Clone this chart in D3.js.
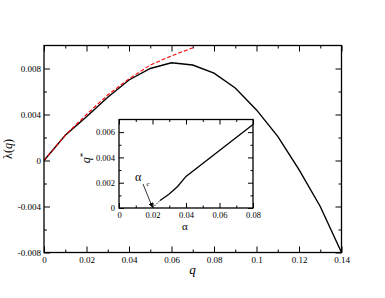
<!DOCTYPE html>
<html><head><meta charset="utf-8">
<script src="https://cdn.jsdelivr.net/npm/d3@7"></script>
<style>
body{margin:0;background:#fff;}
svg, svg text{font-family:"Liberation Serif","Times New Roman",Times,serif !important;}
</style></head>
<body><svg id="c" width="385" height="298"></svg>
<script>
// ---- data ----
const qBlack = [0,0.01,0.02,0.03,0.04,0.05,0.06,0.07,0.08,0.09,0.10,0.11,0.12,0.13,0.14];
const lamBlack = [0,0.0022,0.0038,0.0055,0.0070,0.0080,0.0085,0.0083,0.0076,0.0063,0.0044,0.0021,-0.0008,-0.0040,-0.0080];
const qRed = [0,0.01,0.02,0.03,0.04,0.05,0.06,0.07];
const lamRed = [0,0.0022,0.0040,0.0057,0.0071,0.0083,0.0091,0.0098];
const alphaDot = [0.020,0.0245];
const qStarDot = [0,0.0006];
const alphaSolid = [0.0245,0.030,0.035,0.040,0.080];
const qStarSolid = [0.0006,0.0011,0.0017,0.0025,0.0066];
const xTicks = [0,0.02,0.04,0.06,0.08,0.1,0.12,0.14];
const xTickLabels = ["0","0.02","0.04","0.06","0.08","0.1","0.12","0.14"];
const yTicks = [-0.008,-0.004,0,0.004,0.008];
const yTickLabels = ["-0.008","-0.004","0","0.004","0.008"];
const ixTicks = [0,0.02,0.04,0.06,0.08];
const ixTickLabels = ["0","0.02","0.04","0.06","0.08"];
const iyTicks = [0,0.002,0.004,0.006];
const iyTickLabels = ["0","0.002","0.004","0.006"];

const svg = d3.select("#c");
const SERIF = '"Liberation Serif","Times New Roman",Times,serif';

function drawAxes(g, x, y, xt, xl, yt, yl, xminor, yminor, maj, min, fs, padX, padY){
  const [x0,x1] = x.range(), [y0,y1] = y.range();
  const style = s => { s.attr("font-family",null); s.select(".domain").remove(); s.selectAll("line").attr("stroke","#000").attr("stroke-width",1); s.selectAll("text").attr("font-size",fs).style("font-family",SERIF).attr("fill","#000"); };
  g.append("g").attr("transform",`translate(0,${y0})`).call(d3.axisBottom(x).tickValues(xt).tickFormat((d,i)=>xl[i]).tickSize(-maj).tickPadding(padX)).call(style);
  g.append("g").attr("transform",`translate(0,${y0})`).call(d3.axisBottom(x).tickValues(xminor).tickFormat("").tickSize(-min)).call(style);
  g.append("g").attr("transform",`translate(0,${y1})`).call(d3.axisTop(x).tickValues(xt).tickFormat("").tickSize(-maj)).call(style);
  g.append("g").attr("transform",`translate(0,${y1})`).call(d3.axisTop(x).tickValues(xminor).tickFormat("").tickSize(-min)).call(style);
  g.append("g").attr("transform",`translate(${x0},0)`).call(d3.axisLeft(y).tickValues(yt).tickFormat((d,i)=>yl[i]).tickSize(-maj).tickPadding(padY)).call(style);
  g.append("g").attr("transform",`translate(${x0},0)`).call(d3.axisLeft(y).tickValues(yminor).tickFormat("").tickSize(-min)).call(style);
  g.append("g").attr("transform",`translate(${x1},0)`).call(d3.axisRight(y).tickValues(yt).tickFormat("").tickSize(-maj)).call(style);
  g.append("g").attr("transform",`translate(${x1},0)`).call(d3.axisRight(y).tickValues(yminor).tickFormat("").tickSize(-min)).call(style);
  g.append("rect").attr("x",x0).attr("y",y1).attr("width",x1-x0).attr("height",y0-y1)
    .attr("fill","none").attr("stroke","#000").attr("stroke-width",1.3);
}

// ---- main plot ----
const x = d3.scaleLinear().domain([0,0.14]).range([44,341.5]);
const y = d3.scaleLinear().domain([-0.008,0.01]).range([252.5,45.5]);
const main = svg.append("g");
const line = d3.line().x(d=>x(d[0])).y(d=>y(d[1]));

main.append("path").datum(qBlack.map((q,i)=>[q,lamBlack[i]])).attr("d",line)
  .attr("fill","none").attr("stroke","#000").attr("stroke-width",1.4);
main.append("path").datum(qRed.map((q,i)=>[q,lamRed[i]])).attr("d",line)
  .attr("fill","none").attr("stroke","#ff0000").attr("stroke-width",1.1).attr("stroke-dasharray","4,2");

const xMinor = [0.01,0.03,0.05,0.07,0.09,0.11,0.13];
const yMinor = [-0.006,-0.002,0.002,0.006];
drawAxes(main,x,y,xTicks,xTickLabels,yTicks,yTickLabels,xMinor,yMinor,6,3,"9px",4,3);

main.append("text").attr("transform","translate(12,149) rotate(-90)").attr("text-anchor","middle")
  .attr("font-size","12px").html('λ(<tspan font-style="italic">q</tspan>)');
main.append("text").attr("x",192.5).attr("y",274).attr("text-anchor","middle")
  .attr("font-size","13px").attr("font-style","italic").text("q");

// ---- inset ----
const ix = d3.scaleLinear().domain([0,0.08]).range([119,253]);
const iy = d3.scaleLinear().domain([0,0.007]).range([208,119.5]);
const inset = svg.append("g");
inset.append("rect").attr("x",119).attr("y",119.5).attr("width",134).attr("height",88.5).attr("fill","#fff");
const iline = d3.line().x(d=>ix(d[0])).y(d=>iy(d[1]));
inset.append("path").datum(alphaDot.map((a,i)=>[a,qStarDot[i]])).attr("d",iline)
  .attr("fill","none").attr("stroke","#000").attr("stroke-width",1).attr("stroke-dasharray","1.5,1.5");
inset.append("path").datum(alphaSolid.map((a,i)=>[a,qStarSolid[i]])).attr("d",iline)
  .attr("fill","none").attr("stroke","#000").attr("stroke-width",1.3);

const ixMinor = [0.01,0.03,0.05,0.07];
const iyMinor = [0.001,0.003,0.005];
drawAxes(inset,ix,iy,ixTicks,ixTickLabels,iyTicks,iyTickLabels,ixMinor,iyMinor,5,2.5,"8.5px",3.5,4);

inset.append("text").attr("transform","translate(90,158) rotate(-90)").attr("text-anchor","middle")
  .attr("font-size","12px").html('<tspan font-style="italic">q</tspan><tspan dy="-4" font-size="9px">*</tspan>');
inset.append("text").attr("x",185).attr("y",230).attr("text-anchor","middle")
  .attr("font-size","11px").text("α");

// alpha_c annotation with arrow
svg.append("defs").append("marker").attr("id","ah").attr("viewBox","0 0 10 10").attr("refX",10).attr("refY",5)
  .attr("markerWidth",6).attr("markerHeight",6).attr("orient","auto")
  .append("path").attr("d","M0,0 L10,5 L0,10 z").attr("fill","#000");
inset.append("text").attr("x",135).attr("y",181).attr("font-size","12px").text("α");
inset.append("text").attr("x",146.5).attr("y",186).attr("font-size","7px").attr("font-style","italic").text("c");
inset.append("line").attr("x1",143).attr("y1",184).attr("x2",ix(0.02)).attr("y2",iy(0)-0.5)
  .attr("stroke","#000").attr("stroke-width",0.8).attr("marker-end","url(#ah)");
</script></body></html>
